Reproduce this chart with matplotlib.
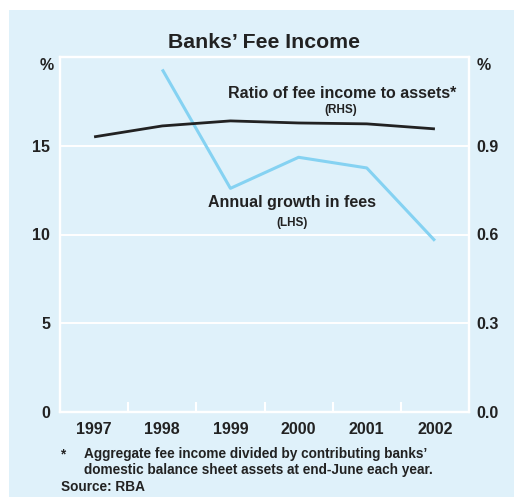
import matplotlib.pyplot as plt
from matplotlib.patches import Rectangle

plt.rcParams['font.family'] = ['Liberation Sans', 'DejaVu Sans']
plt.rcParams['font.weight'] = 'bold'

years = ["1997", "1998", "1999", "2000", "2001", "2002"]
# annual growth in fees, per cent (LHS) - no value for 1997
growth_years = ["1998", "1999", "2000", "2001", "2002"]
growth = [19.3, 12.6, 14.35, 13.75, 9.65]
# fee income to assets ratio, per cent (RHS)
ratio = [0.930, 0.967, 0.984, 0.977, 0.974, 0.957]

BG = "#dff1fa"
LIGHT_BLUE = "#85d2f2"
DARK = "#222222"


def main():
    fig = plt.figure(figsize=(5.14, 4.97), dpi=100, facecolor="white")
    fig.patches.append(Rectangle((9 / 514, 0), 1, 1 - 10 / 497,
                                 transform=fig.transFigure, facecolor=BG,
                                 edgecolor="none", zorder=-10))

    ax = fig.add_axes([60 / 514, 1 - 412 / 497, 409 / 514, 355 / 497])
    ax.set_facecolor(BG)
    ax2 = ax.twinx()

    xpos = {y: i + 0.5 for i, y in enumerate(years)}

    # RHS ratio line
    ax2.plot([xpos[y] for y in years], ratio, color=DARK, lw=2.0,
             solid_capstyle="butt", zorder=3)
    # LHS growth line
    ax.plot([xpos[y] for y in growth_years], growth, color=LIGHT_BLUE,
            lw=2.2, solid_capstyle="butt", zorder=3)

    ax.set_xlim(0, len(years))
    ax.set_ylim(0, 20)
    ax2.set_ylim(0, 1.2)
    ax.set_yticks([0, 5, 10, 15])
    ax.set_yticklabels(["0", "5", "10", "15"])
    ax2.set_yticks([0, 0.3, 0.6, 0.9])
    ax2.set_yticklabels(["0.0", "0.3", "0.6", "0.9"])

    ax.set_xticks([xpos[y] for y in years])
    ax.set_xticklabels(years)
    ax.set_xticks(range(1, len(years)), minor=True)
    ax.tick_params(axis="x", which="major", length=0, pad=7, labelsize=11.5,
                   labelcolor=DARK)
    ax.tick_params(axis="x", which="minor", direction="in", length=7.5,
                   width=1.5, color="white")
    ax.tick_params(axis="y", length=0, pad=7, labelsize=11.5, labelcolor=DARK)
    ax2.tick_params(axis="y", length=0, pad=5, labelsize=11.5, labelcolor=DARK)

    for a in (ax, ax2):
        for s in a.spines.values():
            s.set_color("white")
            s.set_linewidth(1.6)

    for v in [5, 10, 15]:
        ax.axhline(v, color="white", lw=1.4, zorder=1)

    fig.text(54 / 514, 1 - 58 / 497, "%", ha="right", va="top",
             fontsize=11.5, color=DARK)
    fig.text(477 / 514, 1 - 58 / 497, "%", ha="left", va="top",
             fontsize=11.5, color=DARK)

    fig.text(264 / 514, 1 - 42 / 497, "Banks\u2019 Fee Income", ha="center",
             va="center", fontsize=15.3, color=DARK)

    # series labels
    fig.text(342 / 514, 1 - 93 / 497, "Ratio of fee income to assets*",
             ha="center", va="center", fontsize=11.5, color=DARK)
    fig.text(341 / 514, 1 - 110 / 497, "(RHS)", ha="center", va="center",
             fontsize=8.5, color=DARK)
    fig.text(292 / 514, 1 - 203 / 497, "Annual growth in fees",
             ha="center", va="center", fontsize=11.5, color=DARK)
    fig.text(292 / 514, 1 - 223 / 497, "(LHS)", ha="center", va="center",
             fontsize=8.5, color=DARK)

    # footnotes
    fig.text(61 / 514, 1 - 454 / 497, "*", ha="left", va="center",
             fontsize=9.8, color=DARK)
    fig.text(84 / 514, 1 - 454 / 497,
             "Aggregate fee income divided by contributing banks\u2019",
             ha="left", va="center", fontsize=9.8, color=DARK)
    fig.text(84 / 514, 1 - 470 / 497,
             "domestic balance sheet assets at end-June each year.",
             ha="left", va="center", fontsize=9.8, color=DARK)
    fig.text(61 / 514, 1 - 487 / 497, "Source: RBA", ha="left", va="center",
             fontsize=9.8, color=DARK)

    fig.savefig("out.png", dpi=100, facecolor="white")


if __name__ == "__main__":
    main()
